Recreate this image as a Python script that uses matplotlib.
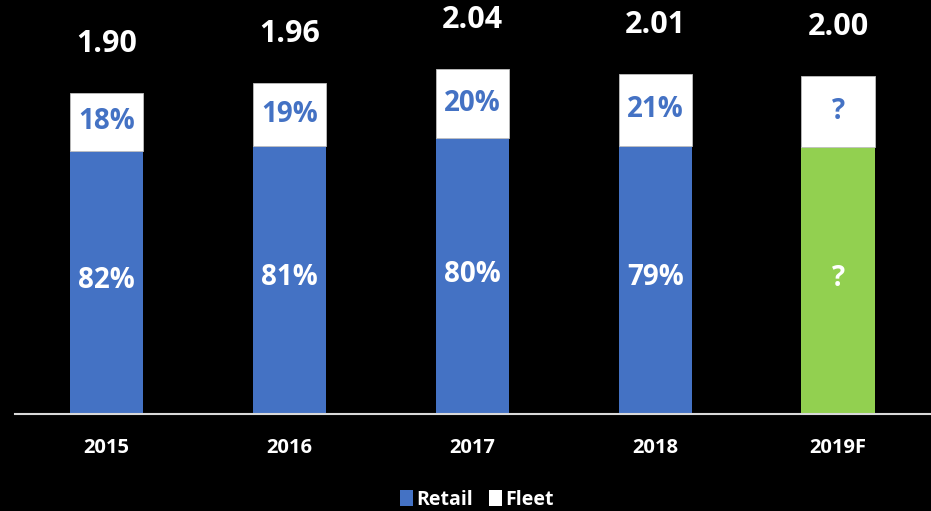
import numpy as np
import matplotlib.pyplot as plt
from matplotlib.patches import Patch

years = ['2015', '2016', '2017', '2018', '2019F']
totals = [1.90, 1.96, 2.04, 2.01, 2.00]
retail_share = [0.82, 0.81, 0.80, 0.79, 0.79]
retail_labels = ['82%', '81%', '80%', '79%', '?']
fleet_labels = ['18%', '19%', '20%', '21%', '?']

blue = '#4472C4'
green = '#92D050'

plt.rcParams['font.family'] = ['Open Sans', 'DejaVu Sans']
plt.rcParams['font.weight'] = 'bold'

W, H = 931, 511
fig = plt.figure(figsize=(W / 100, H / 100), dpi=100, facecolor='black')
# axes placed in pixel terms: baseline at y=414, 169 px per unit
ax = fig.add_axes([15 / W, (H - 414) / H, 914.5 / W, 2.4 * 169 / H])
ax.set_facecolor('black')

x = np.arange(len(years))
totals = np.array(totals)
retail = totals * np.array(retail_share)
fleet = totals - retail
colors = [blue] * 4 + [green]

ax.bar(x, retail, width=0.4, color=colors, edgecolor='none')
ax.bar(x, fleet, width=0.4, bottom=retail, color='white',
       edgecolor='#BFBFBF', linewidth=0.6)

for i in range(len(x)):
    ax.annotate(retail_labels[i], (x[i], retail[i] / 2), xytext=(0, 2),
                textcoords='offset pixels', ha='center', va='center',
                color='white', fontsize=20, fontweight='bold')
    ax.text(x[i], retail[i] + fleet[i] / 2, fleet_labels[i], ha='center',
            va='center', color=blue, fontsize=20, fontweight='bold')
    ax.annotate(f'{totals[i]:.2f}', (x[i], totals[i]), xytext=(0, 49),
                textcoords='offset pixels', ha='center', va='center',
                color='white', fontsize=22, fontweight='bold')

ax.set_xlim(-0.5, 4.5)
ax.set_ylim(0, 2.4)
ax.set_yticks([])
ax.set_xticks(x)
ax.set_xticklabels(years, color='white', fontsize=14.5, fontweight='bold')
ax.tick_params(axis='x', length=0, pad=17)
for s in ['top', 'right', 'left']:
    ax.spines[s].set_visible(False)
ax.spines['bottom'].set_color('#D9D9D9')
ax.spines['bottom'].set_linewidth(1.5)

handles = [Patch(facecolor=blue, label='Retail'),
           Patch(facecolor='white', label='Fleet')]
leg = fig.legend(handles=handles, loc='center', ncol=2, frameon=False,
                 bbox_to_anchor=(477 / W, 1 - 500 / H), fontsize=14,
                 handlelength=0.65, handleheight=0.9, handletextpad=0.2,
                 columnspacing=0.8)
for t in leg.get_texts():
    t.set_color('white')
    t.set_fontweight('bold')

fig.savefig('out.png', dpi=100, facecolor='black')
